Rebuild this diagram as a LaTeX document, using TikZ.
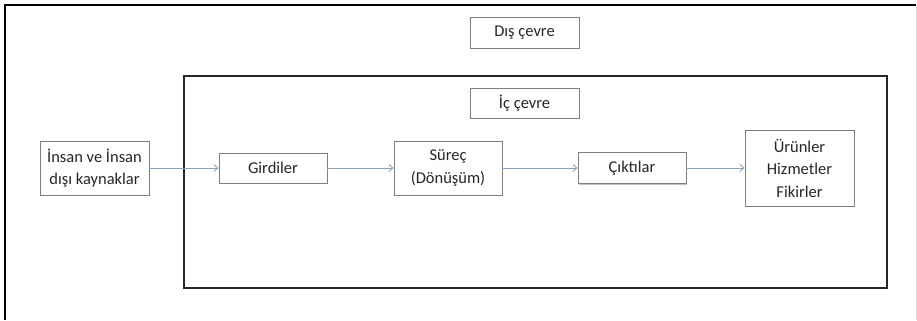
\documentclass[tikz,border=0pt]{standalone}
\usepackage{fontspec}
\setmainfont{Carlito}
\usetikzlibrary{arrows.meta,shadows}
\definecolor{arrowc}{HTML}{8DA2C0}
\definecolor{boxc}{HTML}{7F7F7F}
\tikzset{
  box/.style={draw=boxc, line width=0.9bp, fill=white, align=center, inner sep=0pt,
    font=\fontsize{16.5bp}{22.5bp}\selectfont, text=black!85,
    drop shadow={shadow xshift=1bp, shadow yshift=-1bp, fill=black!40, opacity=0.6}},
  flow/.style={draw=arrowc, line width=0.9bp, -{Straight Barb[length=4bp,width=7bp]}},
}
\begin{document}
\begin{tikzpicture}[x=1bp,y=-1bp]
\useasboundingbox (0,0) rectangle (917,320);
\fill[white] (0,0) rectangle (917,320);
% outer frame
\draw[black, line width=1.6bp] (5,320) -- (5,5) -- (916,5);
\draw[black!15, line width=1bp] (916,5) -- (916,320);
% inner frame
\draw[black!85, line width=2bp] (184,76) rectangle (887,288);
% nodes
\node[box, minimum width=109bp, minimum height=31bp] (dis) at (524.5,32.5) {Dış çevre};
\node[box, minimum width=109bp, minimum height=30bp] (ic) at (524.5,103) {İç çevre};
\node[box, minimum width=109bp, minimum height=54bp] (insan) at (94.5,168) {İnsan ve İnsan\\dışı kaynaklar};
\node[box, minimum width=108bp, minimum height=30bp] (girdi) at (273,168) {Girdiler};
\node[box, minimum width=108bp, minimum height=54bp] (surec) at (448,168) {Süreç\\(Dönüşüm)};
\node[box, minimum width=108bp, minimum height=31bp] (cikti) at (632,168) {Çıktılar};
\node[box, minimum width=109bp, minimum height=76bp] (urun) at (799.5,168) {Ürünler\\Hizmetler\\Fikirler};
% connectors
\draw[flow] (insan) -- (girdi);
\draw[flow] (girdi) -- (surec);
\draw[flow] (surec) -- (cikti);
\draw[flow] (cikti) -- (urun);
\end{tikzpicture}
\end{document}
